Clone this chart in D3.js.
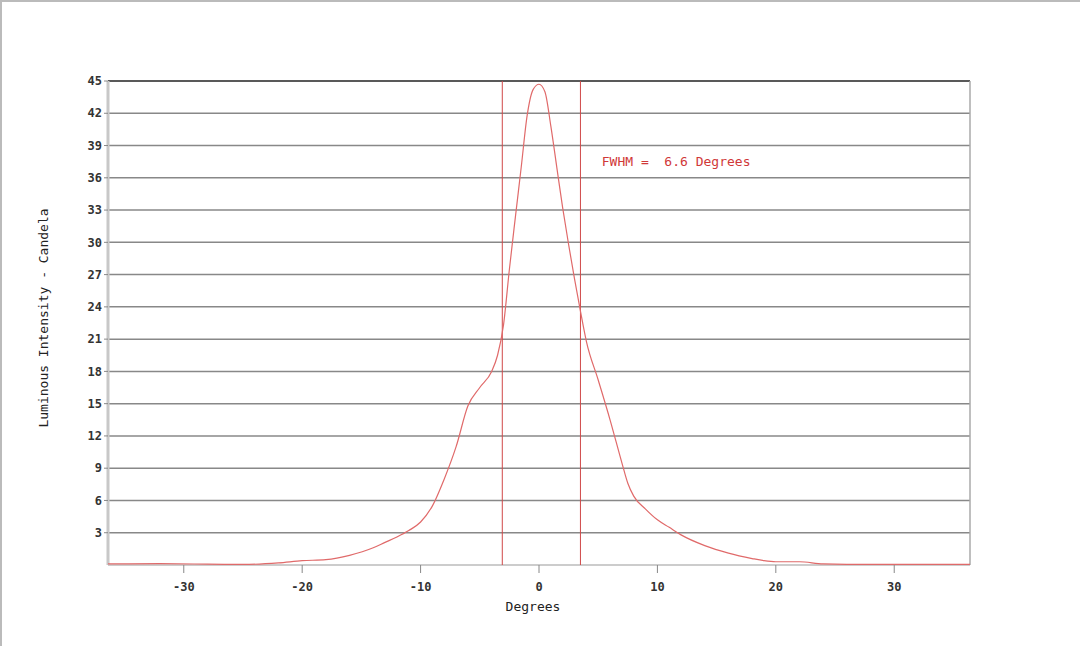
<!DOCTYPE html>
<html>
<head>
<meta charset="utf-8">
<script src="https://cdn.jsdelivr.net/npm/d3@7"></script>
<style>
  body { margin: 0; background: #fff; }
  svg { display: block; }
  .tick-label { font-family: "DejaVu Sans Mono", monospace; font-size: 12px; font-weight: bold; fill: #333; }
  .axis-title { font-family: "DejaVu Sans Mono", monospace; font-size: 13px; fill: #222; }
</style>
</head>
<body>
<svg id="chart"></svg>
<script>
// degrees vs luminous intensity (candela)
const degrees = [-36.4, -32, -28, -25, -22, -20, -18, -16, -14, -13, -12, -11, -10, -9, -8, -7, -6, -5, -4, -3.5, -3, -2.5, -2, -1.5, -1, -0.5, 0,
  0.5, 1, 1.5, 2, 2.5, 3, 3.5, 4, 5, 6, 7, 7.5, 8, 9, 10, 11, 12, 14, 16, 18, 19, 20, 22, 24, 28, 36.4]
const candela = [0.1, 0.12, 0.08, 0.05, 0.2, 0.4, 0.5, 0.9, 1.6, 2.1, 2.6, 3.2, 4.0, 5.5, 8.0, 11.0, 14.8, 16.5, 18.0, 19.5, 22.3, 27.5, 32.3, 37, 41.8, 44.2, 44.7,
  44, 40.8, 37, 33.2, 29.8, 26.6, 23.6, 20.8, 17.2, 13.5, 9.5, 7.6, 6.4, 5.2, 4.2, 3.5, 2.8, 1.8, 1.1, 0.6, 0.4, 0.3, 0.3, 0.1, 0.05, 0.05]

const yTicks = [3, 6, 9, 12, 15, 18, 21, 24, 27, 30, 33, 36, 39, 42, 45]
const xTicks = [-30, -20, -10, 0, 10, 20, 30]
const fwhmBounds = [-3.1, 3.5]
const fwhmLabel = 'FWHM =  6.6 Degrees'

const width = 1080, height = 646
const margin = {top: 81, right: 110, bottom: 81, left: 108}
const w = width - margin.left - margin.right
const h = height - margin.top - margin.bottom

const svg = d3.select('#chart')
    .attr('width', width)
    .attr('height', height)

// frame of the picture
svg.append('line').attr('x1', 0).attr('x2', width).attr('y1', 1).attr('y2', 1)
    .attr('stroke', '#bbb').attr('stroke-width', 2)
svg.append('line').attr('x1', 1).attr('x2', 1).attr('y1', 0).attr('y2', height)
    .attr('stroke', '#bbb').attr('stroke-width', 2)

const chart = svg.append('g')
    .attr('transform', `translate(${margin.left},${margin.top})`)

const xScale = d3.scaleLinear().domain([-36.4, 36.4]).range([0, w])
const yScale = d3.scaleLinear().domain([0, 45]).range([h, 0])

// grid lines
chart.selectAll('.grid')
    .data(yTicks)
    .join('line')
    .attr('class', 'grid')
    .attr('x1', 0)
    .attr('x2', w)
    .attr('y1', d => yScale(d))
    .attr('y2', d => yScale(d))
    .attr('stroke', d => d === 45 ? '#222' : '#888')
    .attr('stroke-width', 1.5)

// left and right borders, bottom axis
chart.append('line').attr('x1', 0).attr('x2', 0).attr('y1', 0).attr('y2', h)
    .attr('stroke', '#c8c8c8').attr('stroke-width', 3)
chart.append('line').attr('x1', w).attr('x2', w).attr('y1', 0).attr('y2', h)
    .attr('stroke', '#aaa').attr('stroke-width', 1.5)
chart.append('line').attr('x1', 0).attr('x2', w).attr('y1', h).attr('y2', h)
    .attr('stroke', '#ccc').attr('stroke-width', 2)

// y ticks
const yTickG = chart.selectAll('.ytick')
    .data(yTicks)
    .join('g')
    .attr('class', 'ytick')
    .attr('transform', d => `translate(0,${yScale(d)})`)
yTickG.append('line').attr('x1', -4).attr('x2', 0).attr('stroke', '#888')
yTickG.append('text')
    .attr('class', 'tick-label')
    .attr('x', -6)
    .attr('dy', '0.35em')
    .attr('text-anchor', 'end')
    .text(d => d)

// x ticks
const xTickG = chart.selectAll('.xtick')
    .data(xTicks)
    .join('g')
    .attr('class', 'xtick')
    .attr('transform', d => `translate(${xScale(d)},${h})`)
xTickG.append('line').attr('y1', 0).attr('y2', 8).attr('stroke', '#888')
xTickG.append('text')
    .attr('class', 'tick-label')
    .attr('y', 26)
    .attr('text-anchor', 'middle')
    .text(d => d)

// fwhm markers
chart.selectAll('.fwhm')
    .data(fwhmBounds)
    .join('line')
    .attr('class', 'fwhm')
    .attr('x1', d => xScale(d))
    .attr('x2', d => xScale(d))
    .attr('y1', 0)
    .attr('y2', h)
    .attr('stroke', '#d04848')
    .attr('stroke-width', 1)

chart.append('text')
    .attr('x', xScale(5.3))
    .attr('y', yScale(37.1))
    .attr('fill', '#d03838')
    .style('font-family', '"DejaVu Sans Mono", monospace')
    .style('font-size', '13px')
    .style('white-space', 'pre')
    .attr('xml:space', 'preserve')
    .text(fwhmLabel)

// curve
const line = d3.line()
    .x((d, i) => xScale(degrees[i]))
    .y(d => yScale(d))
    .curve(d3.curveMonotoneX)

chart.append('path')
    .datum(candela)
    .attr('d', line)
    .attr('fill', 'none')
    .attr('stroke', '#e06a6a')
    .attr('stroke-width', 1.2)

// axis titles
svg.append('text')
    .attr('class', 'axis-title')
    .attr('x', 533)
    .attr('y', 611)
    .attr('text-anchor', 'middle')
    .text('Degrees')

svg.append('text')
    .attr('class', 'axis-title')
    .attr('transform', 'translate(48,318) rotate(-90)')
    .attr('text-anchor', 'middle')
    .text('Luminous Intensity - Candela')
</script>
</body>
</html>
